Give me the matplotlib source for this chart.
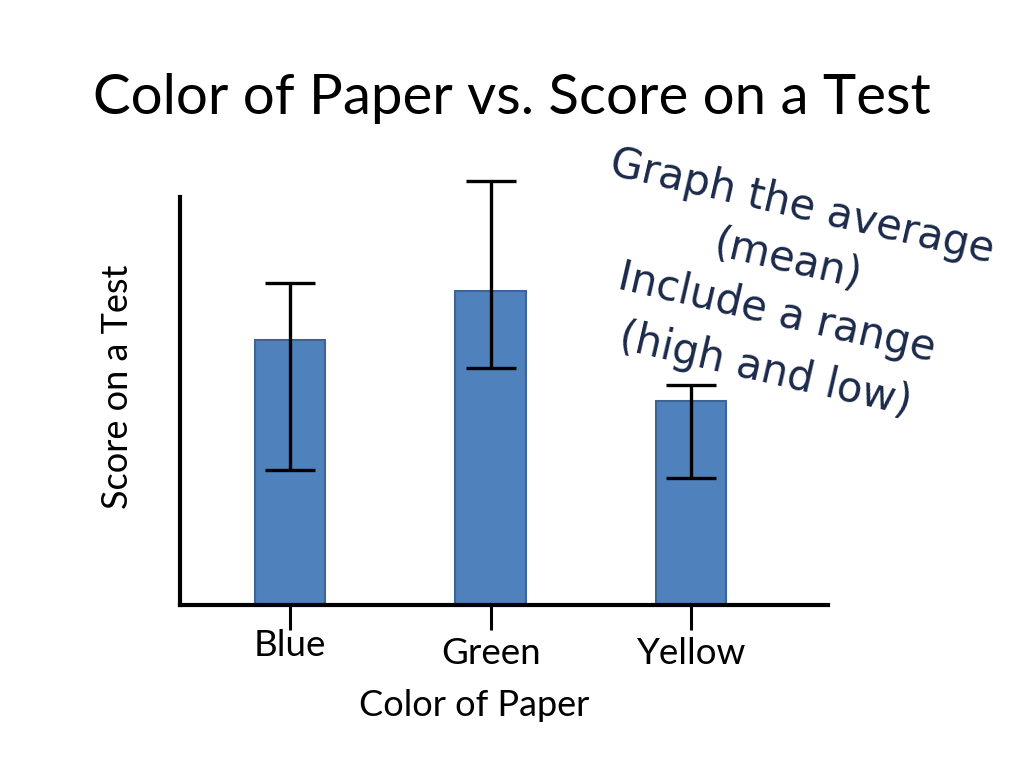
import matplotlib
matplotlib.use("Agg")
import matplotlib.pyplot as plt

categories = ["Blue", "Green", "Yellow"]
means = [65, 77, 50]
highs = [79, 104, 54]
lows = [33, 58, 31]

title = "Color of Paper vs. Score on a Test"
xlabel = "Color of Paper"
ylabel = "Score on a Test"
note_lines = ["Graph the average", "(mean)", "Include a range", "(high and low)"]

W, H = 1024, 768
fig = plt.figure(figsize=(10.24, 7.68), dpi=100)
ax = fig.add_axes([180 / W, 163 / H, (828 - 180) / W, (605 - 170) / H])

x = list(range(len(categories)))
yerr = [[m - l for m, l in zip(means, lows)], [h - m for h, m in zip(highs, means)]]
ax.bar(x, means, width=0.35, color="#4F81BD", edgecolor="#3C6595", linewidth=1.5, zorder=2)
ax.errorbar(x, means, yerr=yerr, fmt="none", ecolor="black", elinewidth=2.4,
            capsize=18, capthick=2.4, zorder=3)

ax.set_xlim(-0.549, 2.683)
ax.set_ylim(0, 106.6)
for s in ["top", "right"]:
    ax.spines[s].set_visible(False)
ax.spines["left"].set_linewidth(3)
ax.spines["bottom"].set_linewidth(3)
ax.spines["left"].set_bounds(0, 100)
ax.spines["left"].set_zorder(4)
ax.spines["bottom"].set_zorder(4)
ax.set_yticks([])
ax.set_xticks(x)
ax.set_xticklabels([])
ax.tick_params(axis="x", direction="out", length=18, width=2.2, color="black")

font = "Lato"
label_y_px = [645, 653, 653]
for xi, name, ypx in zip(x, categories, label_y_px):
    ax.text(xi, (605 - ypx) / (605 - 170), name, transform=ax.get_xaxis_transform(),
            ha="center", va="center", fontsize=26.5, family=font)

fig.text(474 / W, 1 - 705 / H, xlabel, ha="center", va="center", fontsize=26, family=font)
fig.text(118 / W, 1 - 387 / H, ylabel, ha="center", va="center", rotation=90,
         fontsize=26, family=font)
fig.text(512 / W, 1 - 98 / H, title, ha="center", va="center", fontsize=40.6, family=font)

note_pos = [(802, 207), (788, 260), (777, 313), (765, 370)]
for line, (px, py) in zip(note_lines, note_pos):
    fig.text(px / W, 1 - py / H, line, ha="center", va="center", rotation=-13,
             rotation_mode="anchor", fontsize=30, color="#1B2A4A", family="DejaVu Sans")

fig.savefig("out.png", dpi=100)
